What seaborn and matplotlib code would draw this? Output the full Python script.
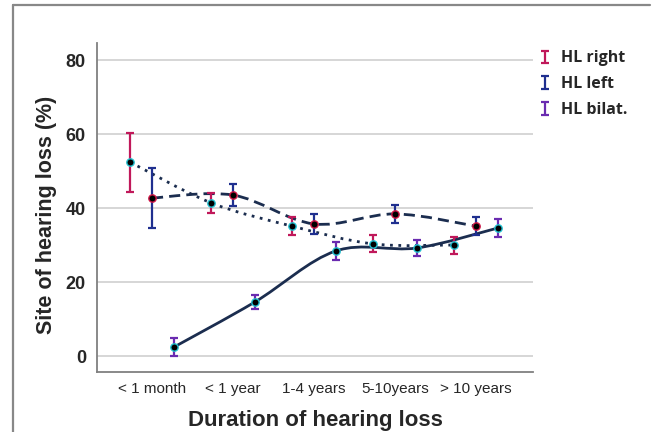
import numpy as np
import pandas as pd
import matplotlib
matplotlib.use("Agg")
import matplotlib.pyplot as plt
import seaborn as sns
from matplotlib.path import Path
from matplotlib.patches import PathPatch
from matplotlib.lines import Line2D
from matplotlib.legend_handler import HandlerErrorbar

# ---- data ----
categories = ["< 1 month", "< 1 year", "1-4 years", "5-10years", "> 10 years"]
series_names = ["HL right", "HL left", "HL bilat."]
right_vals = [52.4, 41.4, 35.1, 30.3, 30.0]
right_err = [8.0, 2.7, 2.5, 2.3, 2.3]
left_vals = [42.7, 43.5, 35.7, 38.4, 35.1]
left_err = [8.0, 2.9, 2.7, 2.5, 2.4]
bilat_vals = [2.4, 14.6, 28.4, 29.2, 34.6]
bilat_err = [2.4, 2.0, 2.5, 2.2, 2.5]
yticks = [0, 20, 40, 60, 80]

# ---- styles ----
err_colors = {"HL right": "#c0185a", "HL left": "#1f2f8f", "HL bilat.": "#6a2bb0"}
edge_colors = {"HL right": "#22c0d0", "HL left": "#d01848", "HL bilat.": "#22c0d0"}
line_styles = {"HL right": (0, (1, 2)), "HL left": (0, (4, 2.2)), "HL bilat.": "-"}
offsets = {"HL right": -0.27, "HL left": 0.0, "HL bilat.": 0.27}
line_color = "#1b2d4f"

rows = []
for name, vals, errs in [("HL right", right_vals, right_err),
                         ("HL left", left_vals, left_err),
                         ("HL bilat.", bilat_vals, bilat_err)]:
    for i, (c, v, e) in enumerate(zip(categories, vals, errs)):
        rows.append({"series": name, "category": c, "cat_idx": i,
                     "xpos": i + offsets[name], "value": v, "err": e})
df = pd.DataFrame(rows)

sns.set_theme(style="white")
plt.rcParams["font.family"] = ["Liberation Sans", "DejaVu Sans"]

fig = plt.figure(figsize=(6.54, 4.32), dpi=100)
ax = fig.add_axes([97/654, 1-372/432, (533-97)/654, (372-43)/432])


def smooth_path(xs, ys):
    pts = np.column_stack([xs, ys])
    ext = np.vstack([pts[0], pts, pts[-1]])
    verts = [tuple(pts[0])]
    codes = [Path.MOVETO]
    for i in range(len(pts) - 1):
        p0, p1, p2, p3 = ext[i], ext[i+1], ext[i+2], ext[i+3]
        c1 = p1 + (p2 - p0) / 6.0
        c2 = p2 - (p3 - p1) / 6.0
        verts += [tuple(c1), tuple(c2), tuple(p2)]
        codes += [Path.CURVE4] * 3
    return Path(verts, codes)


handles = {}
for name in series_names:
    sub = df[df["series"] == name]
    path = smooth_path(sub["xpos"].values, sub["value"].values)
    ax.add_patch(PathPatch(path, facecolor="none", edgecolor=line_color,
                           lw=2.0, linestyle=line_styles[name], zorder=2))
    eb = ax.errorbar(sub["xpos"], sub["value"], yerr=sub["err"], fmt="none",
                     ecolor=err_colors[name], elinewidth=1.6, capsize=3.2,
                     capthick=1.6, zorder=3)
    handles[name] = eb
    sns.scatterplot(data=sub, x="xpos", y="value", color="black",
                    edgecolor=edge_colors[name], linewidth=1.0, s=28,
                    ax=ax, zorder=4, legend=False)

ax.set_xlim(-0.679, 4.704)
ax.set_ylim(-4.32, 84.6)
ax.set_xticks(range(len(categories)))
ax.set_xticklabels(categories, fontsize=11)
ax.set_yticks(yticks)
ax.set_yticklabels([str(t) for t in yticks], fontsize=13, fontweight="bold")
ax.tick_params(axis="x", length=0, pad=7)
ax.tick_params(axis="y", length=0, pad=8)
ax.grid(axis="y", color="#d0d0d0", lw=1.2)
ax.set_axisbelow(True)
for s in ["top", "right"]:
    ax.spines[s].set_visible(False)
for s in ["left", "bottom"]:
    ax.spines[s].set_color("#808080")
    ax.spines[s].set_linewidth(1.3)

ax.set_xlabel("Duration of hearing loss", fontsize=16, fontweight="bold",
              labelpad=10)
ax.set_ylabel("Site of hearing loss (%)", fontsize=15.5, fontweight="bold")
ax.yaxis.set_label_coords(-0.092, 0.477)

leg_font = 11.5
fig.legend([handles[n] for n in series_names], series_names,
           loc="upper left", bbox_to_anchor=(524/654, 1-36/432),
           frameon=False, handlelength=0.8, handletextpad=0.6,
           labelspacing=0.62,
           handler_map={type(handles["HL right"]): HandlerErrorbar(yerr_size=0.39)},
           prop={"family": ["Open Sans", "DejaVu Sans"], "weight": "bold",
                 "size": leg_font})

# outer frame (top and left edges only)
frame_kw = dict(color="#888888", lw=1.6, transform=fig.transFigure)
fig.add_artist(Line2D([13/654, 650/654], [1-5/432, 1-5/432], **frame_kw))
fig.add_artist(Line2D([13/654, 13/654], [1-5/432, 0], **frame_kw))

fig.savefig("out.png", dpi=100)
